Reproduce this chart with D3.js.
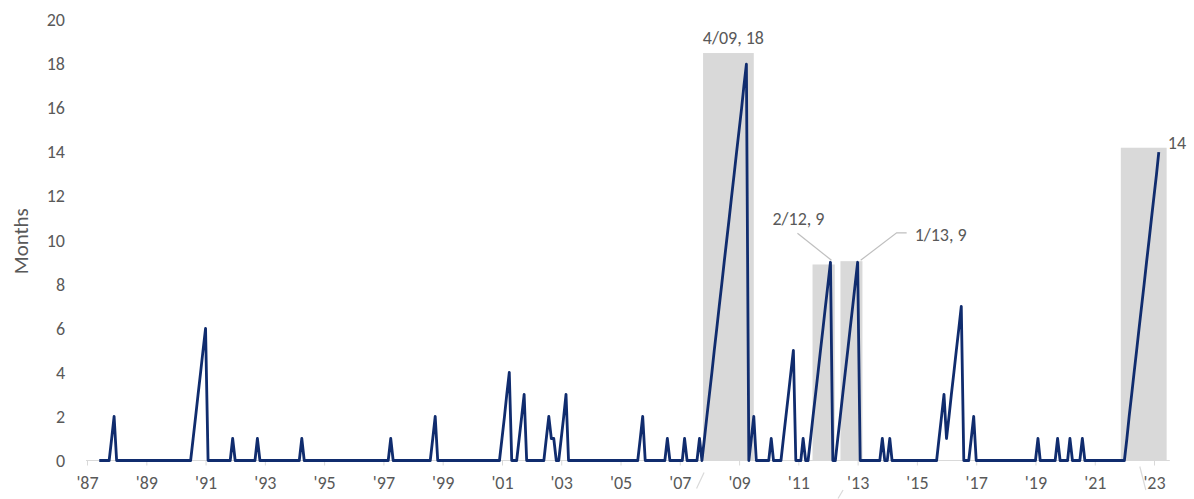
<!DOCTYPE html>
<html>
<head>
<meta charset="utf-8">
<script src="https://cdn.jsdelivr.net/npm/d3@7"></script>
<style>
  html, body { margin: 0; padding: 0; background: #ffffff; }
  svg { display: block; font-family: Carlito, Calibri, Lato, sans-serif; }
</style>
</head>
<body>
<svg id="chart" width="1194" height="499"></svg>
<script>
// Monthly series: first and last month shown
const seriesStart = "1987-06";
const seriesEnd = "2023-03";

// Non-zero runs: first month of each run and its monthly values (all other months are 0)
const episodeStarts = [
  "1987-11", "1990-08", "1991-12", "1992-10", "1994-04", "1997-04", "1998-09",
  "2001-01", "2001-08", "2002-07", "2003-01", "2005-09", "2006-08", "2007-03",
  "2007-09", "2007-11", "2009-06", "2010-02", "2010-07", "2011-03", "2011-06",
  "2012-05", "2013-11", "2014-02", "2015-10", "2016-11", "2019-02", "2019-10",
  "2020-03", "2020-08", "2022-02"
];
const episodeValues = [
  [1, 2], [1, 2, 3, 4, 5, 6], [1], [1], [1], [1], [1, 2],
  [1, 2, 3, 4], [1, 2, 3], [1, 2, 1, 1], [1, 2, 3], [1, 2], [1], [1],
  [1], [1, 2, 3, 4, 5, 6, 7, 8, 9, 10, 11, 12, 13, 14, 15, 16, 17, 18], [1, 2], [1], [1, 2, 3, 4, 5], [1], [1, 2, 3, 4, 5, 6, 7, 8, 9],
  [1, 2, 3, 4, 5, 6, 7, 8, 9], [1], [1], [1, 2, 3, 1, 2, 3, 4, 5, 6, 7], [1, 2], [1], [1],
  [1], [1], [1, 2, 3, 4, 5, 6, 7, 8, 9, 10, 11, 12, 13, 14]
];

// Shaded periods
const bandStarts = ["2007-10-15", "2011-06-25", "2012-06-03", "2021-11-18"];
const bandEnds   = ["2009-07-01", "2012-03-25", "2013-03-01", "2023-06-06"];
const bandTops   = [18.5, 8.9, 9.05, 14.2];

// Axes
const yTicks = [0, 2, 4, 6, 8, 10, 12, 14, 16, 18, 20];
const xTickYears = [1987, 1989, 1991, 1993, 1995, 1997, 1999, 2001, 2003, 2005, 2007, 2009, 2011, 2013, 2015, 2017, 2019, 2021, 2023];
const xTickLabels = ["'87", "'89", "'91", "'93", "'95", "'97", "'99", "'01", "'03", "'05", "'07", "'09", "'11", "'13", "'15", "'17", "'19", "'21", "'23"];

// Peak call-outs
const peakLabels = ["4/09, 18", "2/12, 9", "1/13, 9", "14"];
const peakDates  = ["2009-04", "2012-02", "2013-01", "2023-03"];
const peakValues = [18, 9, 9, 14];

const TEXT = "#595959";
const LINE = "#102c6e";
const BAND = "#d9d9d9";
const RULE = "#d9d9d9";
const LEADER = "#bfbfbf";

const parseMonth = d3.timeParse("%Y-%m");
const parseDay = d3.timeParse("%Y-%m-%d");

// Build the monthly series
const valueByMonth = new Map();
episodeStarts.forEach((s, i) => {
  const start = parseMonth(s);
  episodeValues[i].forEach((v, k) => {
    valueByMonth.set(+d3.timeMonth.offset(start, k), v);
  });
});
const months = d3.timeMonth.range(parseMonth(seriesStart), d3.timeMonth.offset(parseMonth(seriesEnd), 1));
const series = months.map(d => ({ date: d, value: valueByMonth.has(+d) ? valueByMonth.get(+d) : 0 }));

const svg = d3.select("#chart");

const x = d3.scaleTime()
  .domain([new Date(1987, 0, 1), new Date(2023, 0, 1)])
  .range([87, 1154]);
const y = d3.scaleLinear()
  .domain([0, 20])
  .range([460.5, 20]);

// Shaded bands
svg.append("g").selectAll("rect")
  .data(bandStarts.map((s, i) => ({ start: parseDay(s), end: parseDay(bandEnds[i]), top: bandTops[i] })))
  .join("rect")
  .attr("x", d => x(d.start))
  .attr("width", d => x(d.end) - x(d.start))
  .attr("y", d => y(d.top))
  .attr("height", d => y(0) - y(d.top))
  .attr("fill", BAND);

// Faint leader stubs under the axis
const stubs = [
  { at: parseDay(bandStarts[0]), dx1: 1, dy1: 12, dx2: -6.5, dy2: 28 },
  { at: parseDay(bandStarts[2]), dx1: 2.6, dy1: 29.5, dx2: -2.4, dy2: 38 },
  { at: parseDay(bandStarts[3]), dx1: 19, dy1: 6, dx2: 25, dy2: 29.5 }
];
svg.append("g").selectAll("line")
  .data(stubs)
  .join("line")
  .attr("x1", d => x(d.at) + d.dx1).attr("y1", d => y(0) + d.dy1)
  .attr("x2", d => x(d.at) + d.dx2).attr("y2", d => y(0) + d.dy2)
  .attr("stroke", RULE).attr("stroke-width", 1.2);

// X axis
const xAxis = d3.axisBottom(x)
  .tickValues(xTickYears.map(yr => new Date(yr, 0, 1)))
  .tickFormat((d, i) => xTickLabels[i])
  .tickSize(5)
  .tickSizeOuter(0)
  .tickPadding(11);
const gx = svg.append("g")
  .attr("transform", `translate(0,${y(0)})`)
  .call(xAxis);
gx.select(".domain").remove();
gx.selectAll(".tick line").attr("stroke", RULE).attr("stroke-width", 1);
gx.selectAll(".tick text")
  .attr("fill", TEXT)
  .style("font-size", "18px")
  .style("font-family", "Carlito, Calibri, Lato, sans-serif");
svg.append("line")
  .attr("x1", x(new Date(1987, 0, 1)) - 1)
  .attr("x2", x(new Date(2023, 6, 15)))
  .attr("y1", y(0)).attr("y2", y(0))
  .attr("stroke", RULE).attr("stroke-width", 1.2);

// Y axis
const yAxis = d3.axisLeft(y)
  .tickValues(yTicks)
  .tickSize(0)
  .tickPadding(3);
const gy = svg.append("g")
  .attr("transform", "translate(68,0)")
  .call(yAxis);
gy.select(".domain").remove();
gy.selectAll(".tick text")
  .attr("fill", TEXT)
  .style("font-size", "18px")
  .style("font-family", "Carlito, Calibri, Lato, sans-serif");

svg.append("text")
  .attr("transform", `translate(28,${(y(0) + y(20)) / 2 + 1}) rotate(-90)`)
  .attr("text-anchor", "middle")
  .attr("fill", TEXT)
  .style("font-size", "21px")
  .text("Months");

// Series line
svg.append("path")
  .datum(series)
  .attr("fill", "none")
  .attr("stroke", LINE)
  .attr("stroke-width", 2.8)
  .attr("stroke-linejoin", "round")
  .attr("d", d3.line().x(d => x(d.date)).y(d => y(d.value)));

// Call-outs
const peaks = peakLabels.map((t, i) => ({ text: t, date: parseMonth(peakDates[i]), value: peakValues[i] }));

// 4/09 above its band
svg.append("text")
  .attr("x", x(peaks[0].date) - 13)
  .attr("y", y(bandTops[0]) - 9)
  .attr("text-anchor", "middle")
  .attr("fill", TEXT)
  .style("font-size", "18px")
  .text(peaks[0].text);

// 2/12 with leader
{
  const px = x(peaks[1].date), py = y(peaks[1].value);
  svg.append("line")
    .attr("x1", px + 1).attr("y1", py - 2)
    .attr("x2", px - 33).attr("y2", py - 29)
    .attr("stroke", LEADER).attr("stroke-width", 1.2);
  svg.append("text")
    .attr("x", px - 32).attr("y", py - 37)
    .attr("text-anchor", "middle")
    .attr("fill", TEXT)
    .style("font-size", "18px")
    .text(peaks[1].text);
}

// 1/13 with elbow leader
{
  const px = x(peaks[2].date), py = y(peaks[2].value);
  svg.append("polyline")
    .attr("points", [[px + 3, py - 2], [px + 39, py - 29.5], [px + 49, py - 29.5]].map(p => p.join(",")).join(" "))
    .attr("fill", "none")
    .attr("stroke", LEADER).attr("stroke-width", 1.2);
  svg.append("text")
    .attr("x", px + 57).attr("y", py - 21)
    .attr("fill", TEXT)
    .style("font-size", "18px")
    .text(peaks[2].text);
}

// Latest value
svg.append("text")
  .attr("x", x(peaks[3].date) + 9)
  .attr("y", y(peaks[3].value) - 3)
  .attr("fill", TEXT)
  .style("font-size", "18px")
  .text(peaks[3].text);
</script>
</body>
</html>
